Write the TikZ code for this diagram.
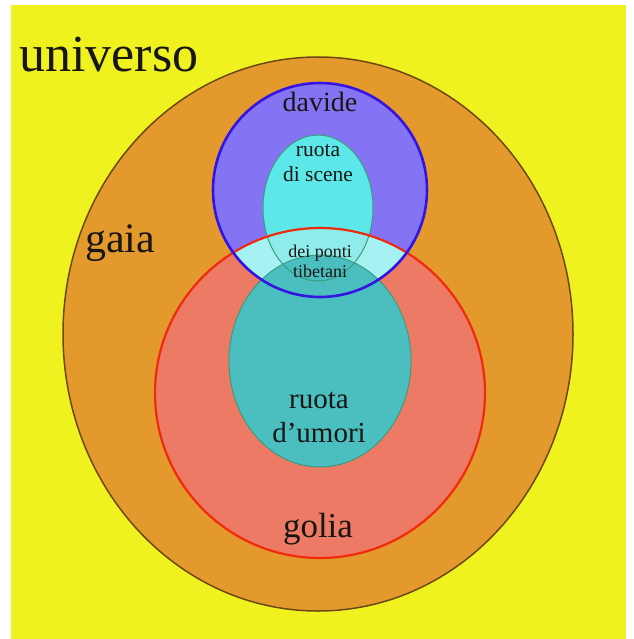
\documentclass[tikz,border=0pt]{standalone}
\usepackage{fontspec}
\setmainfont{Liberation Serif}
\definecolor{univyellow}{RGB}{240,242,32}
\definecolor{gaiaorange}{RGB}{228,153,45}
\definecolor{gaiaedge}{RGB}{110,72,20}
\definecolor{goliasalmon}{RGB}{236,122,100}
\definecolor{goliaedge}{RGB}{240,42,12}
\definecolor{davideviolet}{RGB}{132,116,244}
\definecolor{davideedge}{RGB}{52,20,226}
\definecolor{scenecyan}{RGB}{92,232,232}
\definecolor{bridgelight}{RGB}{166,242,242}
\definecolor{bridgecyan}{RGB}{142,237,234}
\definecolor{umoriteal}{RGB}{75,190,192}
\definecolor{ruotaedge}{RGB}{60,156,124}
\definecolor{labelink}{RGB}{24,22,20}
\tikzset{
  setline/.style={line width=#1},
  gaiaset/.style={fill=gaiaorange},
  goliaset/.style={fill=goliasalmon},
  davideset/.style={fill=davideviolet},
  sceneset/.style={fill=scenecyan},
  umoriset/.style={fill=umoriteal},
  setlabel/.style={text=labelink, inner sep=0pt, anchor=base, align=center},
}
\begin{document}
\begin{tikzpicture}[x=1pt,y=-1pt]
\useasboundingbox (0,0) rectangle (633,639);
\fill[univyellow] (11,5) rectangle (626,639);
\fill[gaiaset] (318,334) ellipse [x radius=255, y radius=277];
\fill[goliaset] (320,393) circle [radius=165];
\fill[davideset] (320,190) circle [radius=107];
\fill[sceneset] (318,208) ellipse [x radius=55, y radius=73];
\begin{scope}
\clip (320,393) circle [radius=165];
\fill[bridgelight] (320,190) circle [radius=107];
\fill[bridgecyan] (318,208) ellipse [x radius=55, y radius=73];
\end{scope}
\fill[umoriset] (320,361) ellipse [x radius=91, y radius=106];
\draw[gaiaedge, setline=1.5pt] (318,334) ellipse [x radius=255, y radius=277];
\draw[ruotaedge, setline=1pt] (318,208) ellipse [x radius=55, y radius=73];
\draw[ruotaedge, setline=1pt] (320,361) ellipse [x radius=91, y radius=106];
\draw[goliaedge, setline=2.2pt] (320,393) circle [radius=165];
\draw[davideedge, setline=2.6pt] (320,190) circle [radius=107];
\node[setlabel, anchor=base west, font=\fontsize{52}{52}\selectfont] (universo) at (19,72) {universo};
\node[setlabel, anchor=base west, font=\fontsize{42}{42}\selectfont] (gaia) at (85,252) {gaia};
\node[setlabel, font=\fontsize{28}{28}\selectfont] (davide) at (320,112) {davide};
\node[setlabel, font=\fontsize{21.5}{25}\selectfont] (scene) at (318,182) {ruota\\di scene};
\node[setlabel, font=\fontsize{18}{20}\selectfont] (ponti) at (320,277) {dei ponti\\tibetani};
\node[setlabel, font=\fontsize{29}{34}\selectfont] (umori) at (319,442) {ruota\\d’umori};
\node[setlabel, font=\fontsize{35}{35}\selectfont] (golia) at (318,537) {golia};
\end{tikzpicture}
\end{document}
